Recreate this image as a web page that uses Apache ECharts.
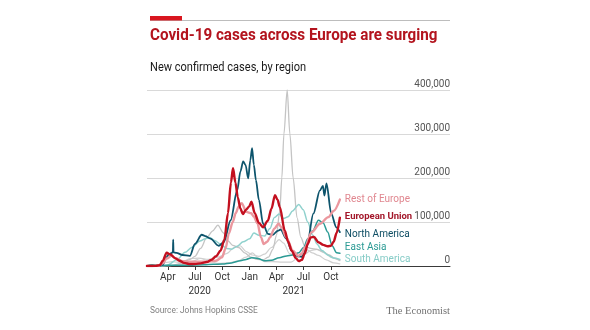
<!DOCTYPE html>
<html>
<head>
<meta charset="utf-8">
<script src="https://cdn.jsdelivr.net/npm/echarts@6/dist/echarts.min.js"></script>
<style>
html,body{margin:0;padding:0;background:#fff;}
#c{width:590px;height:330px;}
</style>
</head>
<body>
<div id="c"></div>
<script>
// ---- Data (7-day average new cases) ----
const tickDates = ['2020-04-01','2020-07-01','2020-10-01','2021-01-01','2021-04-01','2021-07-01','2021-10-01'];
const tickLabels = ['Apr','Jul','Oct','Jan','Apr','Jul','Oct'];
const yearDates = ['2020-07-17','2021-05-29'];
const yearLabels = ['2020','2021'];
const yTicks = [0, 100000, 200000, 300000, 400000];

const europeanUnion = [['2020-01-22',0],['2020-02-20',200],['2020-03-05',2000],['2020-03-15',12000],['2020-03-28',30000],['2020-04-10',26000],['2020-04-25',18000],['2020-05-10',12000],['2020-05-25',7000],['2020-06-15',4500],['2020-07-01',4500],['2020-07-20',6000],['2020-08-10',9000],['2020-08-25',14000],['2020-09-10',22000],['2020-09-25',35000],['2020-10-08',60000],['2020-10-20',120000],['2020-10-30',190000],['2020-11-06',222000],['2020-11-14',190000],['2020-11-22',156000],['2020-12-01',130000],['2020-12-09',118000],['2020-12-20',128000],['2020-12-30',135000],['2021-01-07',146000],['2021-01-18',120000],['2021-02-01',98000],['2021-02-15',88000],['2021-03-03',103000],['2021-03-15',130000],['2021-03-27',161000],['2021-04-05',150000],['2021-04-12',134000],['2021-04-29',80000],['2021-05-10',55000],['2021-05-22',35000],['2021-06-05',18000],['2021-06-15',11000],['2021-06-25',14000],['2021-07-05',28000],['2021-07-15',50000],['2021-07-25',65000],['2021-08-05',66000],['2021-08-20',54000],['2021-09-05',48000],['2021-09-20',45000],['2021-10-01',46000],['2021-10-10',55000],['2021-10-20',75000],['2021-10-31',110000]];

const restOfEurope = [['2020-01-22',0],['2020-03-01',300],['2020-03-15',6000],['2020-03-28',17000],['2020-04-13',23000],['2020-04-28',17000],['2020-05-21',11000],['2020-06-15',10000],['2020-07-15',10000],['2020-08-15',10000],['2020-09-10',12000],['2020-09-30',20000],['2020-10-12',40000],['2020-10-23',74000],['2020-11-05',100000],['2020-11-15',120000],['2020-11-25',135000],['2020-12-05',143000],['2020-12-21',123000],['2021-01-06',120000],['2021-01-15',112000],['2021-01-27',97000],['2021-02-08',65000],['2021-02-17',50000],['2021-03-01',55000],['2021-03-10',65000],['2021-03-25',85000],['2021-04-08',96000],['2021-04-18',88000],['2021-05-04',65000],['2021-05-26',35000],['2021-06-13',23000],['2021-06-25',28000],['2021-07-05',42000],['2021-07-28',77000],['2021-08-25',96000],['2021-09-22',111000],['2021-10-10',125000],['2021-10-31',151000]];

const northAmerica = [['2020-01-22',0],['2020-03-01',50],['2020-03-15',3000],['2020-03-25',18000],['2020-04-05',27000],['2020-04-15',30000],['2020-04-18',32000],['2020-04-19',60000],['2020-04-20',31000],['2020-04-30',30000],['2020-05-20',25000],['2020-06-14',23000],['2020-07-01',50000],['2020-07-24',71000],['2020-08-05',68000],['2020-08-22',62000],['2020-09-19',46000],['2020-10-06',54000],['2020-10-29',104000],['2020-11-20',172000],['2020-12-01',215000],['2020-12-10',238000],['2020-12-18',230000],['2020-12-27',199000],['2021-01-03',240000],['2021-01-09',268000],['2021-01-15',230000],['2021-01-22',195000],['2021-02-01',150000],['2021-02-15',96000],['2021-03-03',73000],['2021-03-20',71000],['2021-04-05',80000],['2021-04-15',83000],['2021-05-04',62000],['2021-05-22',35000],['2021-06-08',23000],['2021-06-25',21000],['2021-07-12',44000],['2021-08-03',119000],['2021-08-25',172000],['2021-09-04',182000],['2021-09-09',160000],['2021-09-16',188000],['2021-10-02',119000],['2021-10-19',88000],['2021-10-31',77000]];

const eastAsia = [['2020-01-22',300],['2020-02-05',3000],['2020-02-15',2500],['2020-03-01',800],['2020-04-01',1500],['2020-06-01',1500],['2020-08-01',3000],['2020-09-01',4000],['2020-10-01',4500],['2020-11-01',7000],['2020-12-01',12000],['2020-12-20',15000],['2021-01-08',19000],['2021-01-28',17000],['2021-02-20',12000],['2021-03-15',13000],['2021-04-10',19000],['2021-05-05',23000],['2021-05-25',25000],['2021-06-15',30000],['2021-07-01',42000],['2021-07-15',62000],['2021-08-01',80000],['2021-08-20',104000],['2021-09-05',98000],['2021-09-20',77000],['2021-10-05',46000],['2021-10-20',30000],['2021-10-31',29000]];

const southAmerica = [['2020-01-22',0],['2020-03-10',100],['2020-04-01',2500],['2020-05-01',14000],['2020-05-29',31000],['2020-06-20',42000],['2020-07-18',57000],['2020-08-05',62000],['2020-08-20',65000],['2020-09-05',58000],['2020-09-25',50000],['2020-10-15',40000],['2020-11-01',38000],['2020-11-20',45000],['2020-12-10',55000],['2021-01-01',62000],['2021-01-15',75000],['2021-02-01',70000],['2021-02-20',68000],['2021-03-10',85000],['2021-03-25',110000],['2021-04-10',118000],['2021-04-25',108000],['2021-05-10',112000],['2021-05-25',125000],['2021-06-15',140000],['2021-06-30',128000],['2021-07-15',100000],['2021-08-01',70000],['2021-08-15',50000],['2021-09-01',35000],['2021-09-20',25000],['2021-10-10',18000],['2021-10-31',15000]];

const southAsia = [['2020-01-22',0],['2020-03-15',100],['2020-04-15',1500],['2020-05-15',6000],['2020-06-15',15000],['2020-07-01',22000],['2020-07-20',40000],['2020-08-10',65000],['2020-08-30',80000],['2020-09-16',93000],['2020-10-05',75000],['2020-10-20',57000],['2020-11-05',47000],['2020-11-25',42000],['2020-12-15',30000],['2021-01-05',20000],['2021-01-25',15000],['2021-02-15',14000],['2021-03-05',20000],['2021-03-20',38000],['2021-04-01',70000],['2021-04-12',125000],['2021-04-19',200000],['2021-04-26',300000],['2021-05-07',400000],['2021-05-16',300000],['2021-05-27',200000],['2021-06-09',110000],['2021-06-22',65000],['2021-07-05',45000],['2021-07-25',40000],['2021-08-15',38000],['2021-09-05',32000],['2021-09-25',25000],['2021-10-15',17000],['2021-10-31',13000]];

const middleEast = [['2020-01-22',0],['2020-03-01',800],['2020-03-25',8000],['2020-04-15',10000],['2020-05-15',8000],['2020-06-15',17000],['2020-07-15',18000],['2020-08-15',15000],['2020-09-15',20000],['2020-10-15',28000],['2020-11-10',42000],['2020-11-30',46000],['2020-12-20',33000],['2021-01-10',25000],['2021-02-01',22000],['2021-02-20',27000],['2021-03-15',42000],['2021-04-10',60000],['2021-04-25',52000],['2021-05-15',28000],['2021-06-10',22000],['2021-07-01',25000],['2021-07-25',35000],['2021-08-15',38000],['2021-09-10',30000],['2021-10-01',20000],['2021-10-31',12000]];

const africa = [['2020-01-22',0],['2020-04-01',500],['2020-05-15',3000],['2020-06-20',10000],['2020-07-20',17000],['2020-08-20',10000],['2020-09-20',6000],['2020-10-20',7000],['2020-11-20',11000],['2020-12-20',20000],['2021-01-10',30000],['2021-01-30',18000],['2021-02-20',10000],['2021-03-20',10000],['2021-04-20',9000],['2021-05-20',9000],['2021-06-15',20000],['2021-07-10',38000],['2021-07-30',30000],['2021-08-20',24000],['2021-09-15',14000],['2021-10-10',7000],['2021-10-31',5000]];

// ---- Chart ----
const ts = d => new Date(d + 'T00:00:00Z').getTime();
const tickTs = tickDates.map(ts);
const yearTs = yearDates.map(ts);
const X_MIN = ts('2020-01-22'), X_MAX = ts('2022-11-05');
const FONT = 'Roboto, "Noto Sans", sans-serif';

function labelFor(list, labels, v) {
  let best = 0, bd = Infinity;
  list.forEach((t, i) => { const d = Math.abs(t - v); if (d < bd) { bd = d; best = i; } });
  return labels[best];
}

function lineSeries(name, data, color, width, label) {
  const s = {
    name, type: 'line', data: data.map(p => [ts(p[0]), p[1]]),
    showSymbol: false, symbol: 'none',
    smooth: 0.3, smoothMonotone: 'x',
    lineStyle: { color, width, join: 'round', cap: 'round' },
    itemStyle: { color }, silent: true
  };
  if (label) {
    s.endLabel = Object.assign({
      show: true, formatter: name, distance: 5,
      fontFamily: FONT, fontSize: 10
    }, label);
  }
  return s;
}

const chart = echarts.init(document.getElementById('c'), null, { renderer: 'canvas' });
chart.setOption({
  animation: false,
  backgroundColor: '#fff',
  grid: { left: 147, right: 140, top: 90, bottom: 64 },
  xAxis: [{
    type: 'value', min: X_MIN, max: X_MAX, scale: true,
    axisLine: { show: true, onZero: false, lineStyle: { color: '#3a3a3a', width: 1 } },
    axisTick: { show: true, customValues: tickTs, length: 4, lineStyle: { color: '#3a3a3a' } },
    axisLabel: {
      customValues: tickTs, color: '#333', fontFamily: FONT, fontSize: 10, margin: 6,
      formatter: v => labelFor(tickTs, tickLabels, v)
    },
    splitLine: { show: false }
  }, {
    type: 'value', gridIndex: 0, position: 'bottom', offset: 0, scale: true,
    min: X_MIN, max: X_MAX,
    axisLine: { show: false, onZero: false }, axisTick: { show: false },
    axisLabel: {
      customValues: yearTs, color: '#333', fontFamily: FONT, fontSize: 10, margin: 20,
      formatter: v => labelFor(yearTs, yearLabels, v)
    },
    splitLine: { show: false }
  }],
  yAxis: {
    type: 'value', position: 'right', min: yTicks[0], max: yTicks[yTicks.length - 1], interval: 100000,
    axisLine: { show: false }, axisTick: { show: false },
    axisLabel: {
      inside: true, margin: 0, verticalAlign: 'bottom', color: '#555',
      fontFamily: FONT, fontSize: 10, padding: [0, 0, 1, 0],
      formatter: v => v.toLocaleString('en-US')
    },
    splitLine: { lineStyle: { color: '#d9d9d9', width: 1 } }
  },
  series: [
    lineSeries('Africa', africa, '#d0d0d0', 1.2),
    lineSeries('Middle East', middleEast, '#d0d0d0', 1.2),
    lineSeries('South Asia', southAsia, '#c4c4c4', 1.3),
    lineSeries('South America', southAmerica, '#8fd1cd', 1.5, { color: '#86ccc7', offset: [0, 0] }),
    lineSeries('East Asia', eastAsia, '#2a9a94', 1.5, { color: '#2a9a94', offset: [0, -6] }),
    lineSeries('North America', northAmerica, '#0d546c', 1.8, { color: '#0d4d63', offset: [0, 2] }),
    lineSeries('Rest of Europe', restOfEurope, '#eb979e', 2.4, { color: '#e0868f', offset: [0, 0] }),
    lineSeries('European Union', europeanUnion, '#c3101f', 2.4, { color: '#a3172a', offset: [0, -1], fontWeight: 'bold', fontSize: 9.5 })
  ],
  graphic: [
    { type: 'line', shape: { x1: 150, y1: 20.5, x2: 450, y2: 20.5 }, style: { stroke: '#bdbdbd', lineWidth: 1 } },
    { type: 'rect', shape: { x: 150, y: 16, width: 32, height: 4.5 }, style: { fill: '#d9161f' } },
    { type: 'text', x: 150, y: 36, scaleX: 0.95, style: { text: 'Covid-19 cases across Europe are surging', fontFamily: FONT, fontWeight: 'bold', fontSize: 16, fill: '#b3141e', verticalAlign: 'middle' } },
    { type: 'text', x: 150, y: 68, scaleX: 0.92, style: { text: 'New confirmed cases, by region', fontFamily: FONT, fontSize: 12, fill: '#1a1a1a', verticalAlign: 'middle' } },
    { type: 'text', x: 150, y: 311, scaleX: 0.88, style: { text: 'Source: Johns Hopkins CSSE', fontFamily: FONT, fontSize: 9.5, fill: '#808080', verticalAlign: 'middle' } },
    { type: 'text', x: 450, y: 311, style: { text: 'The Economist', fontFamily: '"Liberation Serif", "DejaVu Serif", serif', fontSize: 10.5, fill: '#707070', align: 'right', verticalAlign: 'middle' } }
  ]
});
</script>
</body>
</html>
